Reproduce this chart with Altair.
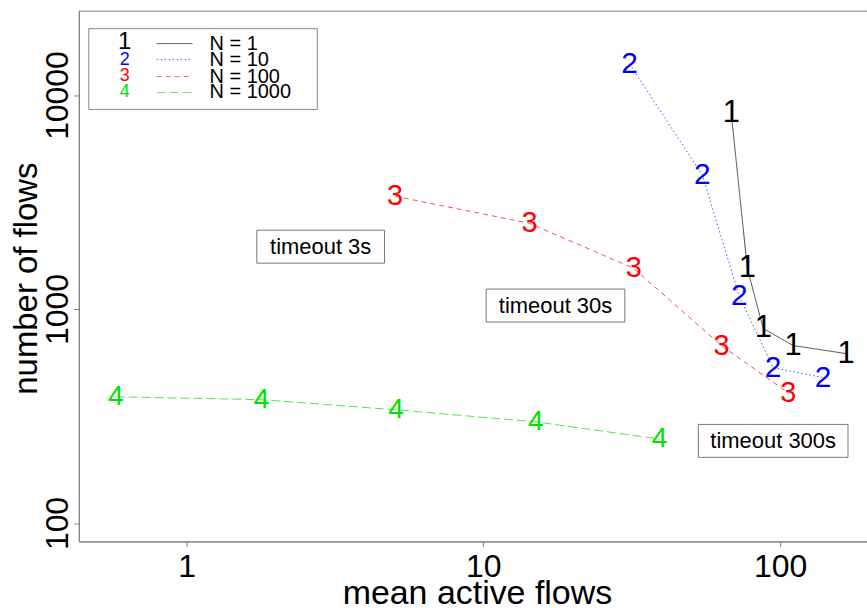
import altair as alt
import pandas as pd

# ---- data ----
series_names = ["N = 1", "N = 10", "N = 100", "N = 1000"]
series_symbols = ["1", "2", "3", "4"]
series_colors = ["#000000", "#0000ff", "#ff0000", "#00e000"]

x_n1 = [68.4, 77.5, 87.7, 110.6, 166.7]
y_n1 = [8240, 1548, 811, 675, 619]
x_n10 = [31.1, 54.7, 72.8, 94.7, 139.5]
y_n10 = [13970, 4220, 1145, 532, 478]
x_n100 = [5.04, 14.3, 32.1, 63.4, 106.4]
y_n100 = [3365, 2515, 1548, 675, 406]
x_n1000 = [0.577, 1.79, 5.08, 15.0, 39.2]
y_n1000 = [389, 377, 338, 297, 247]

annot_text = ["timeout 3s", "timeout 30s", "timeout 300s"]
annot_x = [2.83, 17.5, 94.7]
annot_y = [1955, 1038, 242]

x_ticks = [1, 10, 100]
y_ticks = [100, 1000, 10000]

# ---- build table ----
xs = [x_n1, x_n10, x_n100, x_n1000]
ys = [y_n1, y_n10, y_n100, y_n1000]
rows = []
for name, sym, xv, yv in zip(series_names, series_symbols, xs, ys):
    for i, (a, b) in enumerate(zip(xv, yv)):
        rows.append({"series": name, "sym": sym, "x": a, "y": b, "order": i})
df = pd.DataFrame(rows)
ann = pd.DataFrame({"label": annot_text, "x": annot_x, "y": annot_y})

FONT = "Liberation Sans"
W, H = 790, 532
xdom = [10 ** -0.363, 196.1]
ydom = [82.0, 24780]

xscale = alt.Scale(type="log", domain=xdom, nice=False, zero=False)
yscale = alt.Scale(type="log", domain=ydom, nice=False, zero=False)

dashes = [[1, 0], [1.5, 2.5], [5, 4], [9, 4]]
color_scale = alt.Scale(domain=series_names, range=series_colors)
dash_scale = alt.Scale(domain=series_names, range=dashes)

X = alt.X("x:Q", scale=xscale, axis=alt.Axis(
    values=x_ticks, format=".0f", title="mean active flows", grid=False,
    labelFontSize=32, titleFontSize=34, labelFont=FONT, titleFont=FONT,
    labelColor="black", titleColor="black", titleFontWeight="normal",
    tickSize=5, labelPadding=5, titleX=399, titleY=62,
    titleBaseline="alphabetic", titleAlign="center"))
Y = alt.Y("y:Q", scale=yscale, axis=alt.Axis(
    values=y_ticks, format=".0f", title="number of flows", grid=False,
    labelFontSize=32, titleFontSize=33, labelFont=FONT, titleFont=FONT,
    labelColor="black", titleColor="black", titleFontWeight="normal",
    labelAngle=270, labelAlign="center", labelBaseline="alphabetic",
    tickSize=5, labelPadding=6, titleAngle=270, titleX=-42, titleY=268,
    titleBaseline="alphabetic", titleAlign="center"))

base = alt.Chart(df)
lines = base.mark_line(strokeWidth=1, opacity=0.7).encode(
    x=X, y=Y,
    color=alt.Color("series:N", scale=color_scale, legend=None),
    strokeDash=alt.StrokeDash("series:N", scale=dash_scale, legend=None),
    order="order:Q",
    detail="series:N",
)
digits = base.mark_text(font=FONT, baseline="middle", align="center").encode(
    x=alt.X("x:Q", scale=xscale),
    y=alt.Y("y:Q", scale=yscale),
    text="sym:N",
    color=alt.Color("series:N", scale=color_scale, legend=None),
    size=alt.Size("series:N", scale=alt.Scale(domain=series_names, range=[31, 28, 28, 28]), legend=None),
)

layers = [lines, digits]

# annotation boxes
for i, txt in enumerate(annot_text):
    sub = ann.iloc[[i]]
    bw = 18 + 11 * len(txt)
    layers.append(alt.Chart(sub).mark_rect(width=bw, height=33, fill="white",
                                           stroke="#777777", strokeWidth=1).encode(
        x=alt.X("x:Q", scale=xscale), y=alt.Y("y:Q", scale=yscale)))
layers.append(alt.Chart(ann).mark_text(font=FONT, fontSize=22, color="black",
                                       baseline="middle", align="center").encode(
    x=alt.X("x:Q", scale=xscale), y=alt.Y("y:Q", scale=yscale), text="label:N"))

# manual legend (layout positions in pixels of the plot area)
leg = pd.DataFrame({"series": series_names, "sym": series_symbols})
layers.append(alt.Chart(leg.iloc[[0]]).mark_rect(fill="white", stroke="#888888", strokeWidth=1).encode(
    x=alt.value(10), x2=alt.value(239), y=alt.value(18), y2=alt.value(99)))
row_y = [33, 49, 66, 82]
sym_y = [31, 49, 65, 82]
sym_size = [24, 18, 18, 18]
for i, name in enumerate(series_names):
    sub = leg.iloc[[i]]
    layers.append(alt.Chart(sub).mark_rule(strokeWidth=1, opacity=0.6 if i else 0.7,
                                           color=series_colors[i], strokeDash=dashes[i]).encode(
        x=alt.value(78), x2=alt.value(114), y=alt.value(row_y[i])))
    layers.append(alt.Chart(sub).mark_text(font=FONT, fontSize=sym_size[i], color=series_colors[i],
                                           align="center", baseline="middle").encode(
        x=alt.value(46), y=alt.value(sym_y[i]), text="sym:N"))
    layers.append(alt.Chart(sub).mark_text(font=FONT, fontSize=20, color="black",
                                           align="left", baseline="middle").encode(
        x=alt.value(131), y=alt.value(row_y[i]), text="series:N"))

chart = alt.layer(*layers).properties(
    width=W, height=H,
    autosize=alt.AutoSizeParams(type="none"),
    padding={"left": 79, "top": 10, "right": 0, "bottom": 66},
    background="white",
).configure_view(stroke="#808080", strokeWidth=1).configure_axis(
    domainColor="#808080", tickColor="#808080", domainWidth=1, tickWidth=1)

chart.save("out.html", embed_options={"renderer": "svg", "actions": False})
